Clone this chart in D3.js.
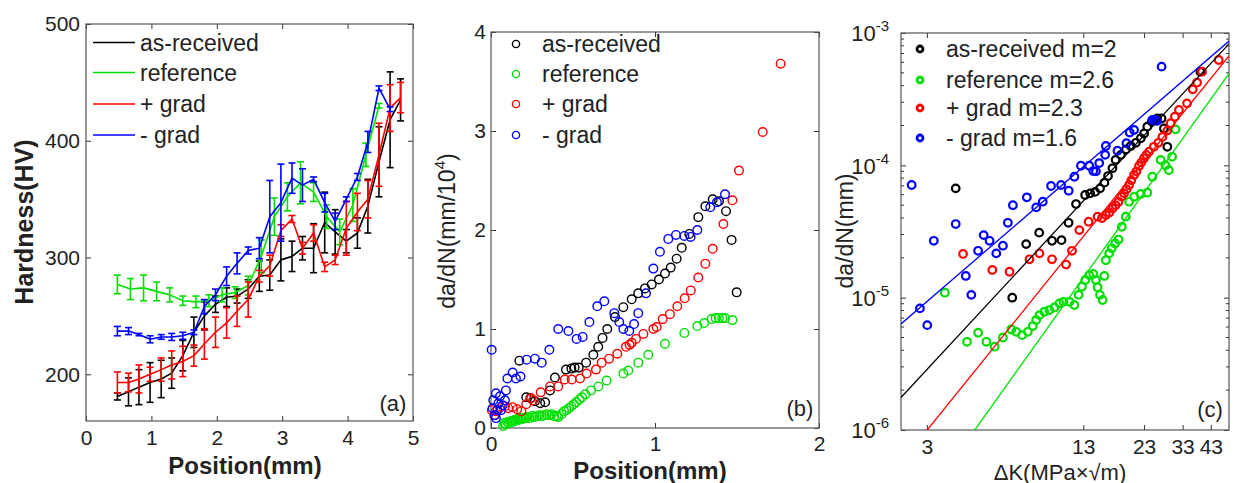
<!DOCTYPE html>
<html>
<head>
<meta charset="utf-8">
<script src="https://cdn.jsdelivr.net/npm/d3@7"></script>
<style>
  body { margin: 0; background: #fff; }
  text { font-family: "Liberation Sans", Arial, Helvetica, sans-serif; fill: #222; }
</style>
</head>
<body>
<svg id="fig" width="1241" height="483"></svg>
<script>
// ---------------- data ----------------
const seriesNames = ["as-received", "reference", "+ grad", "- grad"];
const fitExponent = [2, 2.6, 2.3, 1.6];
const fitCoefficient = [3.18e-7, 1.79e-8, 7.94e-8, 1.61e-6];

// (a) hardness profiles: positions in mm, hardness in HV, half error bar in HV
const positionFine = [0.48, 0.65, 0.81, 0.98, 1.15, 1.31, 1.48, 1.65, 1.81, 1.98, 2.15, 2.31, 2.48, 2.65,
  2.81, 2.98, 3.15, 3.31, 3.48, 3.65, 3.81, 3.98, 4.15, 4.31, 4.48, 4.65, 4.81];
const positionCoarse = [0.48, 0.68, 0.88, 1.08, 1.28, 1.48, 1.68, 1.88, 2.08, 2.28, 2.48, 2.68, 2.88, 3.08,
  3.28, 3.48, 3.68, 3.88, 4.08, 4.28, 4.48];

const hvAsReceived = [181, 185, 189, 193, 196, 201, 216, 236, 250, 260, 266, 267, 273, 284,
  285, 298, 301, 308, 308, 330, 322, 314, 321, 344, 382, 418, 435];
const errAsReceived = [3, 12, 15, 17, 16, 13, 13, 13, 12, 7, 8, 6, 8, 13, 13, 18, 13, 10, 21, 26, 19, 10, 13, 23, 30, 41, 18];

const hvReference = [277, 273, 274, 271, 268, 263, 262, 263, 268, 270, 276, 301, 335, 352, 364, 356, 335, 322, 345, 388, 430];
const errReference = [8, 9, 11, 8, 6, 4, 5, 5, 6, 5, 8, 14, 16, 12, 18, 8, 10, 11, 14, 10, 2];

const hvPlusGrad = [193, 193, 196, 200, 204, 208, 211, 216, 226, 236, 244, 254, 264, 284,
  293, 323, 333, 308, 321, 292, 298, 325, 339, 350, 388, 428, 437];
const errPlusGrad = [9, 8, 12, 6, 10, 12, 13, 9, 13, 13, 13, 13, 15, 5, 9, 5, 3, 5, 7, 4, 4, 23, 16, 16, 27, 20, 13];

const hvMinusGrad = [237, 237, 234, 230, 232, 232, 233, 236, 258, 268, 284, 295, 306, 308,
  335, 347, 368, 362, 367, 347, 331, 350, 369, 399, 445, 427];
const errMinusGrad = [4, 3, 1, 3, 2, 3, 3, 2, 6, 5, 8, 9, 3, 9, 31, 33, 13, 14, 2, 8, 7, 2, 3, 9, 2, 2];

// (b) crack growth rate vs position: [position mm, da/dN in mm/10^4 cycles]
const rateAsReceived = [[0.173, 0.68], [0.215, 0.31], [0.24, 0.3], [0.268, 0.27], [0.3, 0.25], [0.33, 0.26],
  [0.36, 0.38], [0.39, 0.51], [0.457, 0.59], [0.49, 0.6], [0.51, 0.61], [0.535, 0.61], [0.58, 0.66],
  [0.624, 0.74], [0.654, 0.82], [0.68, 0.91], [0.709, 1.0], [0.756, 1.12], [0.807, 1.22], [0.858, 1.3],
  [0.898, 1.36], [0.939, 1.41], [0.98, 1.45], [1.024, 1.5], [1.061, 1.56], [1.096, 1.62], [1.132, 1.71],
  [1.163, 1.82], [1.209, 1.96], [1.264, 2.13], [1.307, 2.24], [1.352, 2.31], [1.39, 2.29], [1.433, 2.19],
  [1.467, 1.9], [1.498, 1.37]];
const rateReference = [[0.075, 0.02], [0.08, 0.05], [0.09, 0.04], [0.1, 0.06], [0.11, 0.05], [0.12, 0.07],
  [0.13, 0.06], [0.14, 0.08], [0.15, 0.07], [0.16, 0.09], [0.17, 0.08], [0.18, 0.1], [0.19, 0.09], [0.2, 0.1],
  [0.21, 0.1], [0.22, 0.11], [0.235, 0.1], [0.25, 0.12], [0.265, 0.11], [0.28, 0.12], [0.295, 0.13],
  [0.31, 0.12], [0.325, 0.13], [0.34, 0.14], [0.355, 0.13], [0.37, 0.14], [0.385, 0.12], [0.4, 0.12],
  [0.41, 0.11], [0.43, 0.14], [0.445, 0.17], [0.46, 0.18], [0.475, 0.2], [0.49, 0.22], [0.505, 0.24],
  [0.52, 0.26], [0.54, 0.29], [0.555, 0.31], [0.575, 0.34], [0.61, 0.38], [0.655, 0.42], [0.705, 0.48],
  [0.807, 0.55], [0.837, 0.58], [0.898, 0.66], [0.959, 0.74], [1.061, 0.85], [1.179, 0.96], [1.258, 1.03],
  [1.3, 1.06], [1.345, 1.1], [1.37, 1.11], [1.39, 1.11], [1.41, 1.11], [1.427, 1.11], [1.472, 1.09]];
const ratePlusGrad = [[0.005, 0.18], [0.02, 0.13], [0.03, 0.17], [0.06, 0.21], [0.085, 0.22], [0.105, 0.2],
  [0.132, 0.21], [0.16, 0.19], [0.185, 0.17], [0.215, 0.24], [0.245, 0.3], [0.258, 0.28], [0.303, 0.36],
  [0.36, 0.42], [0.41, 0.42], [0.45, 0.49], [0.492, 0.49], [0.543, 0.5], [0.583, 0.55], [0.64, 0.59],
  [0.675, 0.66], [0.72, 0.7], [0.77, 0.75], [0.823, 0.82], [0.845, 0.84], [0.858, 0.86], [0.884, 0.9],
  [0.929, 0.95], [0.99, 1.0], [1.01, 1.02], [1.047, 1.1], [1.091, 1.15], [1.136, 1.23], [1.181, 1.31],
  [1.218, 1.39], [1.264, 1.52], [1.307, 1.66], [1.352, 1.81], [1.417, 2.06], [1.472, 2.3], [1.512, 2.6],
  [1.657, 2.99], [1.766, 3.68]];
const rateMinusGrad = [[0.004, 0.79], [0.01, 0.2], [0.014, 0.28], [0.024, 0.13], [0.03, 0.1], [0.03, 0.35],
  [0.039, 0.18], [0.045, 0.25], [0.055, 0.32], [0.061, 0.18], [0.071, 0.23], [0.085, 0.28], [0.091, 0.38],
  [0.1, 0.5], [0.132, 0.56], [0.152, 0.5], [0.18, 0.52], [0.217, 0.69], [0.268, 0.7], [0.309, 0.66],
  [0.356, 0.79], [0.41, 1.0], [0.472, 0.98], [0.522, 0.9], [0.559, 0.92], [0.6, 1.07], [0.648, 1.23],
  [0.691, 1.28], [0.752, 1.16], [0.782, 1.07], [0.807, 1.0], [0.843, 0.98], [0.872, 1.05], [0.898, 1.16],
  [0.945, 1.36], [0.99, 1.61], [1.03, 1.78], [1.081, 1.91], [1.128, 1.95], [1.179, 1.94], [1.217, 1.93],
  [1.258, 2.0], [1.337, 2.23], [1.378, 2.28], [1.427, 2.36]];

// (c) da/dN (mm/cycle) vs stress intensity range ΔK (MPa·√m)
const fcgAsReceived = [[3.93, 6.7e-5], [6.68, 1.0e-5], [7.61, 2.54e-5], [8.6, 3.1e-5], [9.7, 2.69e-5],
  [10.6, 2.72e-5], [11.33, 3.68e-5], [12.15, 5.1e-5], [13.23, 5.97e-5], [13.87, 6.14e-5], [14.53, 6.3e-5],
  [15.22, 6.7e-5], [15.85, 7.4e-5], [16.4, 8.3e-5], [17.1, 9.5e-5], [17.6, 1.1e-4], [18.5, 1.2e-4],
  [19.4, 1.32e-4], [20.3, 1.4e-4], [21.3, 1.48e-4], [22.3, 1.6e-4], [23.0, 1.74e-4], [23.7, 1.96e-4],
  [24.7, 2.14e-4], [26.0, 2.26e-4], [27.1, 2.26e-4], [27.7, 1.9e-4], [28.6, 1.38e-4], [39.0, 5.1e-4]];
const fcgReference = [[3.55, 1.09e-5], [4.37, 4.64e-6], [4.85, 5.43e-6], [5.24, 4.64e-6], [5.66, 4.26e-6],
  [6.12, 5.0e-6], [6.62, 5.75e-6], [6.93, 5.52e-6], [7.33, 5.21e-6], [7.73, 5.52e-6], [8.1, 6.1e-6],
  [8.36, 6.77e-6], [8.62, 7.38e-6], [9.03, 7.83e-6], [9.46, 8.06e-6], [9.92, 8.44e-6], [10.39, 9.05e-6],
  [10.79, 9.3e-6], [11.41, 9.3e-6], [11.96, 8.8e-6], [12.45, 1.05e-5], [12.84, 1.21e-5], [13.25, 1.36e-5],
  [13.75, 1.48e-5], [14.28, 1.51e-5], [14.64, 1.36e-5], [14.87, 1.2e-5], [15.2, 1.05e-5], [15.58, 9.6e-6],
  [15.84, 1.46e-5], [16.07, 1.92e-5], [16.58, 2.16e-5], [16.99, 2.36e-5], [17.53, 2.57e-5], [18.1, 2.75e-5],
  [18.66, 3.43e-5], [19.37, 4.09e-5], [19.98, 5.31e-5], [20.94, 5.79e-5], [22.28, 6.07e-5], [23.7, 6.21e-5],
  [24.85, 8.2e-5], [26.85, 1.1e-4], [28.1, 1.0e-4], [29.0, 9.2e-5], [29.9, 1.16e-4], [30.9, 1.87e-4]];
const fcgPlusGrad = [[4.21, 2.14e-5], [5.54, 1.62e-5], [6.51, 1.57e-5], [7.85, 1.95e-5], [8.62, 2.16e-5],
  [9.7, 1.95e-5], [11.06, 1.78e-5], [11.7, 2.26e-5], [12.53, 3.24e-5], [13.67, 3.75e-5], [14.87, 4.09e-5],
  [15.5, 4.0e-5], [16.07, 4.21e-5], [16.6, 4.4e-5], [17.1, 4.73e-5], [17.6, 5.0e-5], [18.1, 5.31e-5],
  [18.6, 5.8e-5], [19.07, 6.14e-5], [19.5, 6.6e-5], [19.98, 7.1e-5], [20.4, 7.7e-5], [20.94, 8.45e-5],
  [21.4, 9.0e-5], [21.94, 9.9e-5], [22.4, 1.05e-4], [22.98, 1.13e-4], [23.5, 1.2e-4], [24.1, 1.27e-4],
  [25.2, 1.38e-4], [26.3, 1.48e-4], [27.3, 1.64e-4], [28.6, 1.83e-4], [29.5, 2.08e-4], [30.7, 2.33e-4],
  [31.9, 2.62e-4], [34.4, 2.94e-4], [36.3, 3.75e-4], [37.8, 4.22e-4], [39.6, 5.1e-4], [46.3, 6.25e-4]];
const fcgMinusGrad = [[2.6, 7.1e-5], [2.81, 8.3e-6], [3.01, 6.2e-6], [3.2, 2.69e-5], [3.93, 3.6e-5],
  [4.32, 1.46e-5], [4.55, 1.05e-5], [4.85, 2.26e-5], [5.11, 2.97e-5], [5.4, 2.69e-5], [5.75, 2.16e-5],
  [6.12, 2.47e-5], [6.41, 3.68e-5], [6.72, 5.0e-5], [7.66, 5.73e-5], [8.36, 4.81e-5], [8.89, 5.31e-5],
  [9.61, 6.98e-5], [10.56, 7.1e-5], [11.34, 6.43e-5], [11.96, 8.2e-5], [12.72, 9.93e-5], [13.75, 9.93e-5],
  [14.28, 9.05e-5], [14.64, 9.0e-5], [15.1, 1.04e-4], [15.97, 1.2e-4], [16.07, 1.4e-4], [17.92, 1.29e-4],
  [19.49, 1.47e-4], [20.1, 1.77e-4], [20.94, 1.85e-4], [24.85, 2.2e-4], [25.3, 2.2e-4], [25.7, 2.18e-4],
  [26.04, 2.17e-4], [27.1, 5.57e-4]];

// tick values
const ticksAX = [0, 1, 2, 3, 4, 5];
const ticksAY = [200, 300, 400, 500];
const ticksBX = [0, 1, 2];
const ticksBY = [0, 1, 2, 3, 4];
const ticksCX = [3, 13, 23, 33, 43];
const ticksCYExp = [-6, -5, -4, -3];

// ---------------- drawing ----------------
const colors = ["#000000", "#00e000", "#ff0000", "#0000ff"];
const svg = d3.select("#fig");
svg.append("rect").attr("width", 1241).attr("height", 483).attr("fill", "#fff");

const AXIS_COLOR = "#333";
const TICK_FONT = 21;

function styleAxis(g) {
  g.attr("color", AXIS_COLOR).attr("font-size", TICK_FONT)
    .attr("font-family", '"Liberation Sans", Arial, sans-serif');
  g.select(".domain").remove();
  g.selectAll(".tick line").attr("stroke-width", 1);
  g.selectAll(".tick text").attr("fill", "#222");
}

function frame(x, y, xt, yt, opts) {
  const [x0, x1] = x.range();
  const [y0, y1] = y.range(); // y0 bottom, y1 top
  const g = svg.append("g");
  const ax = g.append("g").attr("transform", `translate(0,${y0})`)
    .call(d3.axisBottom(x).tickValues(xt).tickSize(-5).tickPadding(opts.xPad)
      .tickFormat(opts.xFormat || d3.format("d")));
  styleAxis(ax);
  const at = g.append("g").attr("transform", `translate(0,${y1})`)
    .call(d3.axisTop(x).tickValues(xt).tickSize(-5).tickFormat(""));
  styleAxis(at);
  const al = g.append("g").attr("transform", `translate(${x0},0)`)
    .call(d3.axisLeft(y).tickValues(yt).tickSize(-5).tickPadding(opts.yPad)
      .tickFormat(opts.yFormat === undefined ? d3.format("d") : opts.yFormat));
  styleAxis(al);
  const ar = g.append("g").attr("transform", `translate(${x1},0)`)
    .call(d3.axisRight(y).tickValues(yt).tickSize(-5).tickFormat(""));
  styleAxis(ar);
  g.append("rect").attr("x", x0).attr("y", y1).attr("width", x1 - x0).attr("height", y0 - y1)
    .attr("fill", "none").attr("stroke", "#555").attr("stroke-width", 1.2);
  return g;
}

function clip(id, x, y) {
  const [x0, x1] = x.range();
  const [y0, y1] = y.range();
  svg.append("clipPath").attr("id", id).append("rect")
    .attr("x", x0).attr("y", y1).attr("width", x1 - x0).attr("height", y0 - y1);
}

// ===== (a) hardness =====
const xA = d3.scaleLinear().domain([0, 5]).range([86, 413]);
const yA = d3.scaleLinear().domain([160, 500]).range([421, 24]);
frame(xA, yA, ticksAX, ticksAY, { xPad: 9, yPad: 6 });

const hardness = [
  { pos: positionFine, hv: hvAsReceived, err: errAsReceived },
  { pos: positionCoarse, hv: hvReference, err: errReference },
  { pos: positionFine, hv: hvPlusGrad, err: errPlusGrad },
  { pos: positionFine, hv: hvMinusGrad, err: errMinusGrad }
];
const gA = svg.append("g");
hardness.forEach((s, k) => {
  const pts = s.hv.map((v, i) => ({ x: s.pos[i], y: v, e: s.err[i] }));
  const g = gA.append("g").attr("stroke", colors[k]).attr("fill", "none");
  g.append("path").attr("stroke-width", 1.6).attr("stroke-linejoin", "round")
    .attr("d", d3.line().x(d => xA(d.x)).y(d => yA(d.y))(pts));
  const bars = g.selectAll(".eb").data(pts).join("g").attr("stroke-width", 1.6);
  bars.append("line").attr("x1", d => xA(d.x)).attr("x2", d => xA(d.x))
    .attr("y1", d => yA(d.y - d.e)).attr("y2", d => yA(d.y + d.e));
  bars.append("line").attr("x1", d => xA(d.x) - 3.5).attr("x2", d => xA(d.x) + 3.5)
    .attr("y1", d => yA(d.y - d.e)).attr("y2", d => yA(d.y - d.e));
  bars.append("line").attr("x1", d => xA(d.x) - 3.5).attr("x2", d => xA(d.x) + 3.5)
    .attr("y1", d => yA(d.y + d.e)).attr("y2", d => yA(d.y + d.e));
});
// legend (a)
const legYA = [42.5, 72.5, 104, 135];
seriesNames.forEach((n, k) => {
  svg.append("line").attr("x1", 93).attr("x2", 135).attr("y1", legYA[k]).attr("y2", legYA[k])
    .attr("stroke", colors[k]).attr("stroke-width", 1.6);
  svg.append("text").attr("x", 140).attr("y", legYA[k]).attr("dy", "0.35em")
    .attr("font-size", 23).text(n);
});
svg.append("text").attr("x", 393).attr("y", 411).attr("text-anchor", "middle").attr("font-size", 22).text("(a)");
svg.append("text").attr("x", 245).attr("y", 474).attr("text-anchor", "middle")
  .attr("font-size", 24).attr("font-weight", "bold").text("Position(mm)");
svg.append("text").attr("transform", "translate(33,222) rotate(-90)").attr("text-anchor", "middle")
  .attr("font-size", 25).attr("font-weight", "bold").text("Hardness(HV)");

// ===== (b) crack growth rate vs position =====
const xB = d3.scaleLinear().domain([0, 2]).range([491, 819]);
const yB = d3.scaleLinear().domain([0, 4]).range([428, 32]);
frame(xB, yB, ticksBX, ticksBY, { xPad: 8, yPad: 5 });
const rates = [rateAsReceived, rateReference, ratePlusGrad, rateMinusGrad];
rates.forEach((s, k) => {
  svg.append("g").selectAll("circle").data(s).join("circle")
    .attr("cx", d => xB(d[0])).attr("cy", d => yB(d[1])).attr("r", 4.3)
    .attr("fill", "none").attr("stroke", colors[k]).attr("stroke-width", 1.4);
});
const legYB = [44, 74, 104, 135];
seriesNames.forEach((n, k) => {
  svg.append("circle").attr("cx", 516).attr("cy", legYB[k]).attr("r", 3.6)
    .attr("fill", "none").attr("stroke", colors[k]).attr("stroke-width", 1.4);
  svg.append("text").attr("x", 542).attr("y", legYB[k]).attr("dy", "0.35em")
    .attr("font-size", 23).text(n);
});
svg.append("text").attr("x", 800).attr("y", 416).attr("text-anchor", "middle").attr("font-size", 22).text("(b)");
svg.append("text").attr("x", 650).attr("y", 478.5).attr("text-anchor", "middle")
  .attr("font-size", 24).attr("font-weight", "bold").text("Position(mm)");
const ylabB = svg.append("text").attr("transform", "translate(455,231) rotate(-90)")
  .attr("text-anchor", "middle").attr("font-size", 23);
ylabB.append("tspan").text("da/dN(mm/10");
ylabB.append("tspan").attr("font-size", 15).attr("dy", -10).text("4");
ylabB.append("tspan").attr("dy", 10).text(")");

// ===== (c) da/dN vs ΔK, log-log =====
const xC = d3.scaleLog().domain([2.353, 51]).range([901, 1229]);
const yC = d3.scaleLog().domain([1e-6, 1e-3]).range([430, 33]);
const majorC = ticksCYExp.map(e => Math.pow(10, e));
frame(xC, yC, ticksCX, majorC, { xPad: 9, yPad: 12, yFormat: "" });
// minor log ticks
const minorC = [];
ticksCYExp.slice(0, 3).forEach(e => { for (let m = 2; m <= 9; m++) minorC.push(m * Math.pow(10, e)); });
const gm = svg.append("g").attr("stroke", AXIS_COLOR).attr("stroke-width", 1);
gm.selectAll(".ml").data(minorC).join("line")
  .attr("x1", 901).attr("x2", 904).attr("y1", d => yC(d)).attr("y2", d => yC(d));
gm.selectAll(".mr").data(minorC).join("line")
  .attr("x1", 1229).attr("x2", 1226).attr("y1", d => yC(d)).attr("y2", d => yC(d));
// decade labels with superscript exponents
ticksCYExp.forEach(e => {
  const t = svg.append("text").attr("x", 889).attr("y", yC(Math.pow(10, e))).attr("dy", "0.38em")
    .attr("text-anchor", "end").attr("font-size", 22);
  t.append("tspan").text("10");
  t.append("tspan").attr("font-size", 15).attr("dy", -10).text(String(e));
});
clip("clipC", xC, yC);
const fits = svg.append("g").attr("clip-path", "url(#clipC)");
const fcg = [fcgAsReceived, fcgReference, fcgPlusGrad, fcgMinusGrad];
fcg.forEach((s, k) => {
  svg.append("g").selectAll("circle").data(s).join("circle")
    .attr("cx", d => xC(d[0])).attr("cy", d => yC(d[1])).attr("r", 3.8)
    .attr("fill", "none").attr("stroke", colors[k]).attr("stroke-width", 2.2);
});
// Paris-law fit lines da/dN = C·ΔK^m
fitExponent.forEach((m, k) => {
  const ks = xC.domain();
  const pts = ks.map(K => [xC(K), yC(fitCoefficient[k] * Math.pow(K, m))]);
  fits.append("line").attr("x1", pts[0][0]).attr("y1", pts[0][1]).attr("x2", pts[1][0]).attr("y2", pts[1][1])
    .attr("stroke", colors[k]).attr("stroke-width", 1.3);
});
svg.node().appendChild(fits.node());
const legYC = [49, 80, 108, 138];
seriesNames.forEach((n, k) => {
  svg.append("circle").attr("cx", 920).attr("cy", legYC[k]).attr("r", 3)
    .attr("fill", "none").attr("stroke", colors[k]).attr("stroke-width", 2.8);
  svg.append("text").attr("x", 946).attr("y", legYC[k]).attr("dy", "0.35em")
    .attr("font-size", 23).text(`${n} m=${fitExponent[k]}`);
});
svg.append("text").attr("x", 1210).attr("y", 417).attr("text-anchor", "middle").attr("font-size", 22).text("(c)");
svg.append("text").attr("x", 1060).attr("y", 479.5).attr("text-anchor", "middle")
  .attr("font-size", 22).text("ΔK(MPa×√m)");
svg.append("text").attr("transform", "translate(853,231) rotate(-90)").attr("text-anchor", "middle")
  .attr("font-size", 23).text("da/dN(mm)");
</script>
</body>
</html>
